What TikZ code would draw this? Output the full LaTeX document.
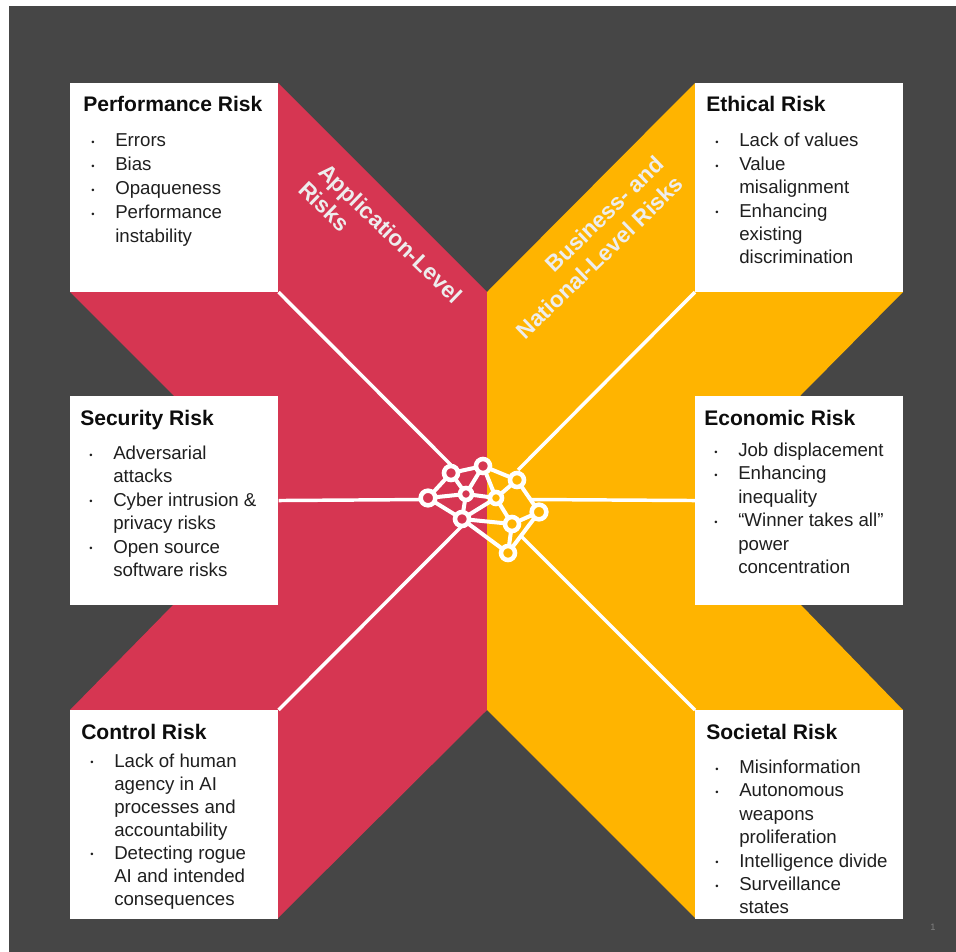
\documentclass[tikz,border=0pt]{standalone}
\usepackage{fontspec}
\setmainfont{Liberation Sans}
\definecolor{slate}{HTML}{464646}
\definecolor{appred}{HTML}{D63652}
\definecolor{bizamber}{HTML}{FFB400}
\newcommand{\BL}{\raisebox{1pt}{\fontsize{7}{7}\selectfont\textbullet}}
\newenvironment{risklist}[1][17.55]{\fontsize{14}{#1}\selectfont\begin{tabular}[t]{@{}p{18pt}@{}l@{}}}{\end{tabular}}
\tikzset{
  x=.75pt,y=-.75pt,
  riskbox/.style={fill=white,draw=none,inner sep=0pt,minimum width=156pt,minimum height=156.4pt,anchor=north west},
  risktitle/.style={anchor=base west,inner sep=0pt,font=\fontsize{15.8}{19}\selectfont\bfseries,text=black!95},
  riskbody/.style={anchor=base west,inner sep=0pt,text=black!88},
  spoke/.style={draw=white,line width=2.6pt},
  link/.style={draw=white,line width=3pt},
  hubred/.style={circle,draw=white,line width=3.4pt,fill=appred,inner sep=0pt,minimum size=10.5pt},
  hubamber/.style={circle,draw=white,line width=3.4pt,fill=bizamber,inner sep=0pt,minimum size=10.5pt},
  bandlabel/.style={inner sep=0pt,text=white!93!black,font=\fontsize{17}{20}\selectfont\bfseries}
}
\begin{document}
\begin{tikzpicture}
\useasboundingbox (0,0) rectangle (956,952);
\fill[white] (0,0) rectangle (956,952);
\fill[slate] (9,6) rectangle (956,952);
\fill[appred] (278,83) -- (487,292) -- (487,710) -- (278,918) -- (278,710) -- (70,710) -- (174,604) -- (174,396) -- (70,292) -- (278,292) -- cycle;
\fill[bizamber] (695,83) -- (487,292) -- (487,710) -- (695,918) -- (695,710) -- (903,710) -- (800,604) -- (800,396) -- (903,292) -- (695,292) -- cycle;

\node[riskbox] (perf) at (70,83) {};
\node[riskbox] (sec) at (70,396) {};
\node[riskbox] (ctrl) at (70,710) {};
\node[riskbox] (eth) at (695,83) {};
\node[riskbox] (econ) at (695,396) {};
\node[riskbox] (soc) at (695,710) {};

\coordinate (a) at (451,473);
\coordinate (b) at (483,466);
\coordinate (c) at (517,480);
\coordinate (d) at (428,498);
\coordinate (e) at (466,494);
\coordinate (f) at (496,498);
\coordinate (g) at (462,519);
\coordinate (h) at (539,512);
\coordinate (i) at (512,524);
\coordinate (j) at (508,553);

\coordinate (perfEnd) at (451,465);
\coordinate (ethEnd) at (518,470);
\coordinate (secEnd) at (428,499.5);
\coordinate (econEnd) at (530,499.5);
\coordinate (ctrlEnd) at (462,526);
\coordinate (socEnd) at (521,536);

\draw[spoke] (perf.south east) -- (perfEnd);
\draw[spoke] (eth.south west) -- (ethEnd);
\draw[spoke] (sec.east) -- (secEnd);
\draw[spoke] (econ.west) -- (econEnd);
\draw[spoke] (ctrl.north east) -- (ctrlEnd);
\draw[spoke] (soc.north west) -- (socEnd);
\foreach \p/\q in {a/b,a/d,a/e,b/c,b/e,b/f,c/f,c/h,d/e,d/g,e/f,e/g,f/g,f/i,g/i,g/j,h/i,h/j,i/j}{
  \draw[link] (\p) -- (\q);
}
\node[hubred] (na) at (a) {};
\node[hubred] (nb) at (b) {};
\node[hubamber] (nc) at (c) {};
\node[hubred,minimum size=11pt] (nd) at (d) {};
\node[hubred,minimum size=9pt] (ne) at (e) {};
\node[hubamber,minimum size=9pt] (nf) at (f) {};
\node[hubred] (ng) at (g) {};
\node[hubamber,minimum size=11pt] (nh) at (h) {};
\node[hubamber] (ni) at (i) {};
\node[hubamber] (nj) at (j) {};

\node[risktitle] (perfT) at (83,112) {Performance Risk};
\node[riskbody] (perfB) at (91,147) {\begin{risklist}[18]\BL&Errors\\\BL&Bias\\\BL&Opaqueness\\\BL&Performance\\&instability\end{risklist}};
\node[risktitle] (secT) at (80,425) {Security Risk};
\node[riskbody] (secB) at (89,459.5) {\begin{risklist}\BL&Adversarial\\&attacks\\\BL&Cyber intrusion \&\\&privacy risks\\\BL&Open source\\&software risks\end{risklist}};
\node[risktitle] (ctrlT) at (81,739) {Control Risk};
\node[riskbody] (ctrlB) at (90,767) {\begin{risklist}[17.3]\BL&Lack of human\\&agency in AI\\&processes and\\&accountability\\\BL&Detecting rogue\\&AI and intended\\&consequences\end{risklist}};
\node[risktitle] (ethT) at (706,112) {Ethical Risk};
\node[riskbody] (ethB) at (715,147) {\begin{risklist}\BL&Lack of values\\\BL&Value\\&misalignment\\\BL&Enhancing\\&existing\\&discrimination\end{risklist}};
\node[risktitle] (econT) at (704,425) {Economic Risk};
\node[riskbody] (econB) at (714,456.5) {\begin{risklist}\BL&Job displacement\\\BL&Enhancing\\&inequality\\\BL&“Winner takes all”\\&power\\&concentration\end{risklist}};
\node[risktitle] (socT) at (706,739) {Societal Risk};
\node[riskbody] (socB) at (715,773.5) {\begin{risklist}\BL&Misinformation\\\BL&Autonomous\\&weapons\\&proliferation\\\BL&Intelligence divide\\\BL&Surveillance\\&states\end{risklist}};

\node[bandlabel,rotate=-44,anchor=base west] (appL) at (317,173) {Application-Level};
\node[bandlabel,rotate=-44,anchor=base west] (appR) at (297,191) {Risks};
\node[bandlabel,rotate=44,anchor=base east] (bizL) at (666,166) {Business- and};
\node[bandlabel,rotate=44,anchor=base east] (bizR) at (685,186) {National-Level Risks};
\node[inner sep=0pt,text=black!50!white,font=\fontsize{7}{8}\selectfont] (pg) at (933,927) {1};
\end{tikzpicture}
\end{document}
